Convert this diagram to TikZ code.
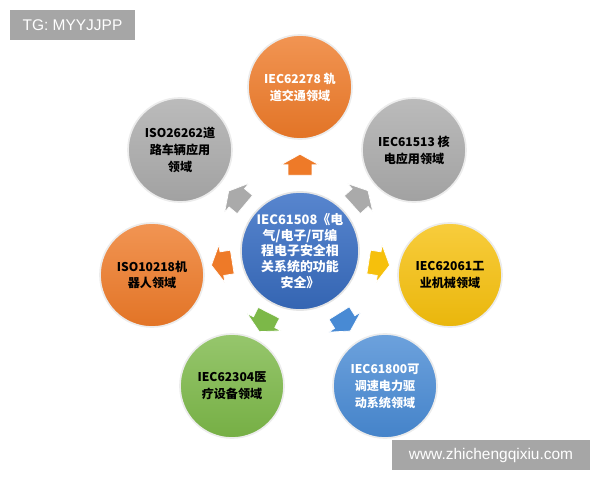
\documentclass[tikz,border=0pt]{standalone}
\usepackage{fontspec}
\newfontfamily\cjk{Noto Sans CJK SC}
\newfontfamily\tagfont{Liberation Sans}
\usetikzlibrary{calc}

\definecolor{ballorange}{RGB}{238,122,40}
\definecolor{ballgrey}{RGB}{170,170,170}
\definecolor{ballyellow}{RGB}{246,192,12}
\definecolor{ballblue}{RGB}{72,138,212}
\definecolor{ballgreen}{RGB}{124,184,72}
\definecolor{hubblue}{RGB}{58,112,198}
\definecolor{taggrey}{RGB}{166,166,166}

\tikzset{
  field/.style={circle, minimum size=2.6cm, inner sep=0pt, align=center,
    draw=white!85!gray, line width=1.2pt,
    top color=#1!80!white, bottom color=#1!95!black,
    font=\cjk\bfseries\fontsize{8.6}{12}\selectfont},
  hubball/.style={circle, minimum size=2.95cm, inner sep=0pt, align=center,
    draw=white!80!gray, line width=1.2pt,
    top color=hubblue!85!white, bottom color=hubblue!90!black, text=white,
    font=\cjk\bfseries\fontsize{9.2}{11.2}\selectfont},
  pics/blockarrow/.style={code={
    \path[fill=#1, draw=white, line width=0.5pt]
      (-7pt,-8.5pt) -- (0.5pt,-8.5pt) -- (0.5pt,-13.5pt) -- (8pt,0pt)
      -- (0.5pt,13.5pt) -- (0.5pt,8.5pt) -- (-7pt,8.5pt) -- cycle;
  }},
  tag/.style={fill=taggrey, text=white, inner sep=0pt, minimum height=0.75cm,
    font=\tagfont\fontsize{11}{13}\selectfont}
}

\begin{document}
\begin{tikzpicture}[x=0.025cm, y=-0.025cm]
    \useasboundingbox (0,0) rectangle (600,480);

    % Central standard
    \node[hubball] (hub) at (300,251)
        {IEC61508《电\\气/电子/可编\\程电子安全相\\关系统的功能\\安全》};

    % Fields of application
    \node[field=ballorange, text=white] (top) at (300,87) {IEC62278 轨\\道交通领域};
    \node[field=ballgrey] (topright) at (414,150) {IEC61513 核\\电应用领域};
    \node[field=ballyellow] (right) at (450,275) {IEC62061工\\业机械领域};
    \node[field=ballblue, text=white] (botright) at (385,386) {IEC61800可\\调速电力驱\\动系统领域};
    \node[field=ballgreen] (botleft) at (232,386) {IEC62304医\\疗设备领域};
    \node[field=ballorange] (left) at (152,275) {ISO10218机\\器人领域};
    \node[field=ballgrey] (topleft) at (180,150) {ISO26262道\\路车辆应用\\领域};

    % Block arrows from the hub to each field
    \foreach \n/\a/\c [evaluate=\a as \b using int(\a+180)] in
        {top/90/ballorange, topright/42/ballgrey, right/-9/ballyellow,
         botright/-58/ballblue, botleft/-117/ballgreen, left/189/ballorange,
         topleft/140/ballgrey}
        \pic[rotate=\a] (flow-\n) at ($(hub.\a)!0.5!(\n.\b)$) {blockarrow=\c};

    % Watermarks
    \node[tag, minimum width=3.125cm] (tagtop) at (72.5,25) {TG: MYYJJPP};
    \node[tag, minimum width=4.95cm] (tagbot) at (491,455) {www.zhichengqixiu.com};
\end{tikzpicture}
\end{document}
